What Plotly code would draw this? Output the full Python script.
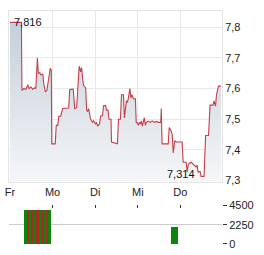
import plotly.graph_objects as go

# time in trading days since Friday open (0 = Fr, 1 = Mo, ...)
t = [0, 0.269, 0.280, 0.327, 0.374, 0.421, 0.444, 0.491, 0.537, 0.584, 0.607, 0.643,
     0.666, 0.701, 0.724, 0.771, 0.794, 0.829, 0.864, 0.911, 0.946, 0.970, 0.981,
     1.063, 1.086, 1.121, 1.145, 1.192, 1.238, 1.379, 1.402, 1.484, 1.519, 1.565,
     1.600, 1.624, 1.659, 1.682, 1.706, 1.729, 1.776, 1.799, 1.822, 1.846, 1.893,
     1.939, 1.963, 2.009, 2.033, 2.056, 2.103, 2.126, 2.173, 2.196, 2.243, 2.266,
     2.301, 2.325, 2.371, 2.383, 2.523, 2.547, 2.593, 2.617, 2.664, 2.687, 2.734,
     2.757, 2.780, 2.815, 2.839, 2.862, 2.897, 2.944, 2.963, 2.991, 3.014, 3.037,
     3.061, 3.084, 3.107, 3.131, 3.154, 3.178, 3.201, 3.248, 3.294, 3.341, 3.388,
     3.435, 3.481, 3.540, 3.551, 3.570, 3.715, 3.738, 3.785, 3.808, 3.832, 3.867,
     3.902, 4.042, 4.065, 4.136, 4.159, 4.182, 4.206, 4.252, 4.299, 4.322, 4.369,
     4.393, 4.416, 4.463, 4.486, 4.556, 4.591, 4.661, 4.696, 4.766, 4.790, 4.825,
     4.848, 4.895, 4.953]
price = [7.816, 7.816, 7.594, 7.600, 7.598, 7.613, 7.600, 7.605, 7.598, 7.603, 7.600, 7.700,
         7.650, 7.652, 7.645, 7.647, 7.615, 7.590, 7.593, 7.640, 7.666, 7.660, 7.420,
         7.420, 7.480, 7.480, 7.510, 7.510, 7.535, 7.537, 7.597, 7.598, 7.535, 7.538,
         7.600, 7.673, 7.655, 7.668, 7.630, 7.610, 7.603, 7.530, 7.525, 7.535, 7.500,
         7.490, 7.495, 7.484, 7.490, 7.478, 7.485, 7.510, 7.512, 7.544, 7.545, 7.530,
         7.530, 7.500, 7.500, 7.426, 7.420, 7.500, 7.500, 7.580, 7.580, 7.504, 7.560,
         7.555, 7.570, 7.600, 7.570, 7.580, 7.567, 7.567, 7.490, 7.488, 7.480, 7.490,
         7.484, 7.495, 7.478, 7.490, 7.505, 7.480, 7.490, 7.494, 7.490, 7.495, 7.490,
         7.493, 7.490, 7.490, 7.535, 7.420, 7.420, 7.473, 7.462, 7.450, 7.390, 7.430,
         7.426, 7.426, 7.360, 7.360, 7.328, 7.350, 7.356, 7.360, 7.355, 7.350, 7.345,
         7.350, 7.328, 7.330, 7.314, 7.314, 7.447, 7.447, 7.546, 7.546, 7.560, 7.543,
         7.580, 7.608, 7.608]

day_ticks = [0, 1, 2, 3, 4]
day_labels = ["Fr", "Mo", "Di", "Mi", "Do"]
price_ticks = [7.3, 7.4, 7.5, 7.6, 7.7, 7.8]
vol_ticks = [0, 2250, 4500]

vol_t = [0.362, 0.419, 0.475, 0.532, 0.589, 0.646, 0.702, 0.759, 0.816, 0.872, 0.929,
         3.797, 3.879]
vol = [3900, 3900, 3900, 3900, 3900, 3900, 3900, 3900, 3900, 3900, 3900, 1900, 1900]
vol_w = [0.057] * 11 + [0.023, 0.14]
GREEN, RED = "#0d850d", "#b02525"
vol_col = [GREEN, RED, GREEN, RED, GREEN, RED, GREEN, RED, GREEN, RED, GREEN, RED, GREEN]

y_lo, y_hi = 7.297, 7.853
x_lo, x_hi = -0.023, 4.977

fig = go.Figure()
fig.add_trace(go.Scatter(
    x=t, y=price, mode="lines", line=dict(color="#c4404a", width=1.1, shape="linear"),
    fill="tozeroy",
    fillgradient=dict(type="vertical", start=y_lo, stop=7.82,
                      colorscale=[[0, "rgb(247,248,250)"], [1, "rgb(196,207,216)"]]),
    xaxis="x", yaxis="y", hoverinfo="skip", showlegend=False))

fig.add_trace(go.Bar(x=vol_t, y=vol, width=vol_w, marker=dict(color=vol_col, line_width=0),
                     xaxis="x2", yaxis="y2", showlegend=False, hoverinfo="skip"))

imax = price.index(max(price))
imin = price.index(min(price))
fig.add_annotation(x=t[imax], y=price[imax], text=f"{price[imax]:.3f}".replace(".", ","),
                   xref="x", yref="y", showarrow=False, xanchor="left", yanchor="middle",
                   xshift=2, font=dict(size=11, color="#111"))
fig.add_annotation(x=t[imin], y=price[imin], text=f"{price[imin]:.3f}".replace(".", ","),
                   xref="x", yref="y", showarrow=False, xanchor="right", yanchor="middle",
                   xshift=-4, yshift=2, font=dict(size=11, color="#111"))

font = dict(family="Liberation Sans, Arial, sans-serif", size=11, color="#222")
fig.update_layout(
    width=264, height=255, margin=dict(l=8, r=42, t=5, b=7),
    paper_bgcolor="white", plot_bgcolor="white", separators=",.",
    font=font, bargap=0,
    xaxis=dict(domain=[0, 1], range=[x_lo, x_hi], tickvals=day_ticks, ticktext=day_labels,
               showgrid=True, gridcolor="#e8e8e8", gridwidth=1, zeroline=False,
               showline=True, mirror=True, linecolor="#e4e4e4", ticks="", anchor="y"),
    yaxis=dict(domain=[0.268, 1], range=[y_lo, y_hi], tickvals=price_ticks,
               tickformat=".1f", side="right", showgrid=True, gridcolor="#e8e8e8",
               zeroline=False, showline=True, mirror=True, linecolor="#e4e4e4", ticks="",
               anchor="x"),
    xaxis2=dict(domain=[0, 1], range=[x_lo, x_hi], tickvals=day_ticks, showticklabels=False,
                side="top", ticks="inside", ticklen=3, tickcolor="#333", showgrid=False,
                zeroline=False, showline=False, anchor="y2"),
    yaxis2=dict(domain=[0, 0.1653], range=[0, 4500], tickvals=vol_ticks, side="right",
                ticks="outside", ticklen=4, tickcolor="#333", showgrid=True,
                ticklabelstandoff=0,
                gridcolor="#cccccc", zeroline=False, showline=False, anchor="x2"),
)

fig.write_html("out.html")
